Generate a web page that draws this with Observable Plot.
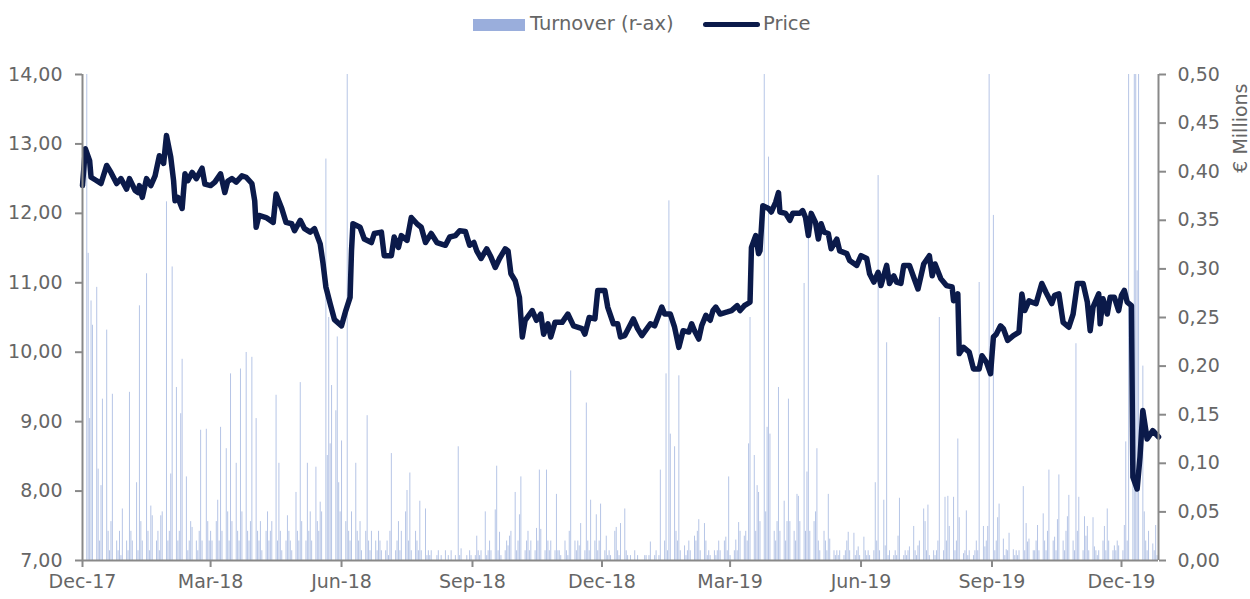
<!DOCTYPE html>
<html>
<head>
<meta charset="utf-8">
<script src="https://cdn.jsdelivr.net/npm/d3@7"></script>
<script src="https://cdn.jsdelivr.net/npm/@observablehq/plot@0.6"></script>
<style>
  body { margin: 0; background: #fff; font-family: "DejaVu Sans", sans-serif; }
  #legend { position: relative; width: 1250px; height: 46px; }
  #legend .sw { position: absolute; }
  #legend .lb { position: absolute; top: 14px; font-size: 19.5px; line-height: 20px; color: #666; white-space: nowrap; }
  svg { display: block; }
</style>
</head>
<body>
<div id="legend">
  <div class="sw" style="left:473px;top:19px;width:52px;height:12px;background:#9aaedc"></div>
  <span class="lb" style="left:530px">Turnover (r-ax)</span>
  <div class="sw" style="left:703px;top:21.5px;width:57px;height:5.5px;border-radius:3px;background:#0b1a4a"></div>
  <span class="lb" style="left:763px">Price</span>
</div>
<div id="chart"></div>
<script>
// ---------- Data ----------
const priceDates = [
"2017-12-01","2017-12-03","2017-12-06","2017-12-07","2017-12-11","2017-12-14","2017-12-18","2017-12-21","2017-12-25","2017-12-28",
"2018-01-01","2018-01-03","2018-01-07","2018-01-09","2018-01-10","2018-01-12","2018-01-15","2018-01-18","2018-01-21","2018-01-24",
"2018-01-27","2018-01-29","2018-02-01","2018-02-03","2018-02-04","2018-02-06","2018-02-09","2018-02-11","2018-02-13","2018-02-16",
"2018-02-19","2018-02-23","2018-02-25","2018-03-01","2018-03-04","2018-03-08","2018-03-11","2018-03-13","2018-03-16","2018-03-19",
"2018-03-23","2018-03-26","2018-03-30","2018-04-01","2018-04-02","2018-04-04","2018-04-09","2018-04-14","2018-04-16","2018-04-20",
"2018-04-23","2018-04-27","2018-04-29","2018-05-03","2018-05-06","2018-05-10","2018-05-13","2018-05-17","2018-05-19","2018-05-21",
"2018-05-24","2018-05-27","2018-06-01","2018-06-04","2018-06-07","2018-06-08","2018-06-09","2018-06-14","2018-06-17","2018-06-22",
"2018-06-24","2018-06-29","2018-07-01","2018-07-06","2018-07-08","2018-07-11","2018-07-13","2018-07-17","2018-07-20","2018-07-24",
"2018-07-27","2018-07-30","2018-08-03","2018-08-07","2018-08-13","2018-08-16","2018-08-20","2018-08-23","2018-08-27","2018-08-30",
"2018-09-02","2018-09-04","2018-09-07","2018-09-11","2018-09-14","2018-09-17","2018-09-20","2018-09-24","2018-09-26","2018-09-28",
"2018-10-01","2018-10-04","2018-10-06","2018-10-08","2018-10-13","2018-10-16","2018-10-19","2018-10-21","2018-10-24","2018-10-26",
"2018-10-29","2018-11-03","2018-11-07","2018-11-11","2018-11-17","2018-11-19","2018-11-22","2018-11-26","2018-11-28","2018-12-03",
"2018-12-05","2018-12-09","2018-12-12","2018-12-14","2018-12-17","2018-12-23","2018-12-26","2018-12-29","2019-01-04","2019-01-07",
"2019-01-12","2019-01-14","2019-01-18","2019-01-21","2019-01-24","2019-01-27","2019-01-31","2019-02-02","2019-02-04","2019-02-07",
"2019-02-09","2019-02-12","2019-02-15","2019-02-17","2019-02-19","2019-02-22","2019-02-27","2019-03-02","2019-03-06","2019-03-08",
"2019-03-11","2019-03-15","2019-03-16","2019-03-19","2019-03-21","2019-03-22","2019-03-24","2019-03-28","2019-03-30","2019-04-02",
"2019-04-04","2019-04-05","2019-04-09","2019-04-12","2019-04-14","2019-04-19","2019-04-21","2019-04-23","2019-04-25","2019-04-27",
"2019-04-30","2019-05-02","2019-05-04","2019-05-06","2019-05-09","2019-05-11","2019-05-13","2019-05-15","2019-05-17","2019-05-22",
"2019-05-24","2019-05-29","2019-06-01","2019-06-05","2019-06-07","2019-06-10","2019-06-13","2019-06-15","2019-06-19","2019-06-21",
"2019-06-24","2019-06-26","2019-06-29","2019-07-01","2019-07-05","2019-07-08","2019-07-11","2019-07-15","2019-07-19","2019-07-21",
"2019-07-23","2019-07-27","2019-07-31","2019-08-04","2019-08-05","2019-08-08","2019-08-09","2019-08-12","2019-08-16","2019-08-19",
"2019-08-23","2019-08-25","2019-08-28","2019-08-31","2019-09-02","2019-09-04","2019-09-07","2019-09-09","2019-09-12","2019-09-16",
"2019-09-20","2019-09-22","2019-09-24","2019-09-27","2019-09-29","2019-10-02","2019-10-06","2019-10-09","2019-10-13","2019-10-15",
"2019-10-18","2019-10-21","2019-10-25","2019-10-28","2019-10-31","2019-11-04","2019-11-07","2019-11-09","2019-11-11","2019-11-15",
"2019-11-16","2019-11-18","2019-11-21","2019-11-23","2019-11-26","2019-11-29","2019-12-01","2019-12-03","2019-12-05","2019-12-08",
"2019-12-09","2019-12-12","2019-12-14","2019-12-16","2019-12-19","2019-12-23","2019-12-27"
];
const priceValues = [
12.40,12.93,12.76,12.52,12.47,12.43,12.69,12.59,12.43,12.50,
12.35,12.50,12.33,12.30,12.40,12.23,12.50,12.40,12.54,12.83,
12.72,13.12,12.81,12.47,12.18,12.23,12.07,12.57,12.47,12.59,
12.50,12.65,12.42,12.40,12.45,12.57,12.30,12.46,12.50,12.45,
12.54,12.52,12.43,12.18,11.80,11.97,11.94,11.87,12.28,12.07,
11.87,11.85,11.75,11.90,11.78,11.73,11.78,11.56,11.28,10.94,
10.70,10.47,10.38,10.60,10.79,11.46,11.85,11.80,11.63,11.58,
11.71,11.73,11.39,11.39,11.66,11.51,11.68,11.61,11.94,11.85,
11.80,11.58,11.71,11.58,11.54,11.66,11.68,11.75,11.74,11.54,
11.58,11.46,11.35,11.49,11.37,11.22,11.35,11.49,11.46,11.13,
11.03,10.79,10.22,10.46,10.60,10.46,10.55,10.26,10.41,10.22,
10.43,10.43,10.55,10.38,10.34,10.26,10.50,10.48,10.89,10.89,
10.65,10.41,10.41,10.22,10.24,10.48,10.34,10.24,10.41,10.38,
10.65,10.55,10.55,10.36,10.07,10.31,10.29,10.41,10.31,10.19,
10.38,10.53,10.46,10.60,10.65,10.55,10.58,10.60,10.67,10.60,
10.67,10.72,11.51,11.68,11.42,11.46,12.11,12.07,12.02,12.16,
12.30,12.02,12.00,11.90,12.00,12.00,12.04,11.94,11.68,12.00,
11.87,11.63,11.85,11.73,11.71,11.49,11.56,11.63,11.46,11.42,
11.32,11.25,11.39,11.35,11.13,11.01,11.15,10.96,11.25,10.99,
11.10,11.01,10.99,11.25,11.25,11.08,10.91,11.27,11.39,11.10,
11.27,11.06,10.96,10.94,10.74,10.84,9.98,10.07,10.00,9.76,
9.76,9.95,9.86,9.69,10.22,10.26,10.38,10.34,10.17,10.24,
10.29,10.84,10.60,10.74,10.72,10.70,10.99,10.86,10.70,10.82,
10.84,10.43,10.36,10.55,10.99,10.99,10.72,10.31,10.65,10.84,
10.41,10.77,10.55,10.79,10.79,10.60,10.82,10.89,10.72,10.67,
8.20,8.03,8.49,9.16,8.75,8.87,8.78
];

// Daily turnover (€ millions), one value per trading day (Mon-Fri), 2017-12-01 .. 2019-12-27
const turnover = [
// Dec-17
0.52,0.50,0.316,0.146,0.267,0.242,0.281,0.094,0.02,0.077,0.166,0.237,0.03,0.01,0.04,0.171,0.02,0.01,0.03,0.005,0.053,
// Jan-18
0.02,0.01,0.173,0.03,0.02,0.08,0.01,0.262,0.04,0.02,0.295,0.03,0.01,0.056,0.046,0.02,0.03,0.01,0.046,0.05,0.369,0.02,0.03,
// Feb-18
0.089,0.302,0.178,0.02,0.03,0.151,0.207,0.086,0.01,0.02,0.04,0.034,0.02,0.01,0.03,0.134,0.02,0.135,0.04,0.02,
// Mar-18
0.03,0.02,0.04,0.062,0.02,0.137,0.03,0.115,0.05,0.02,0.192,0.04,0.10,0.03,0.02,0.197,0.05,0.214,0.03,0.02,0.04,0.209,
// Apr-18
0.146,0.03,0.02,0.04,0.01,0.03,0.05,0.02,0.03,0.04,0.17,0.02,0.10,0.03,0.01,0.02,0.046,0.03,0.02,0.01,0.07,
// May-18
0.03,0.02,0.183,0.04,0.02,0.10,0.03,0.05,0.02,0.096,0.04,0.03,0.06,0.05,0.413,0.108,0.25,0.12,0.18,0.154,0.23,0.08,0.05,
// Jun-18
0.123,0.04,0.55,0.03,0.02,0.05,0.10,0.03,0.02,0.04,0.01,0.03,0.149,0.02,0.01,0.03,0.02,0.01,0.03,0.02,0.01,
// Jul-18
0.01,0.02,0.005,0.03,0.11,0.01,0.02,0.04,0.01,0.03,0.05,0.072,0.02,0.09,0.01,0.03,0.02,0.01,0.061,0.01,0.053,0.005,
// Aug-18
0.01,0.005,0.01,0.0,0.005,0.01,0.0,0.005,0.01,0.0,0.005,0.0,0.01,0.005,0.0,0.117,0.005,0.012,0.0,0.005,0.0,0.01,0.005,
// Sep-18
0.005,0.025,0.01,0.005,0.01,0.05,0.005,0.01,0.02,0.01,0.052,0.097,0.01,0.029,0.005,0.01,0.02,0.015,0.025,0.03,
// Oct-18
0.07,0.01,0.02,0.047,0.086,0.01,0.02,0.03,0.01,0.02,0.01,0.033,0.02,0.093,0.032,0.01,0.093,0.02,0.01,0.02,0.01,0.068,0.01,
// Nov-18
0.01,0.005,0.02,0.01,0.005,0.03,0.195,0.02,0.01,0.02,0.015,0.038,0.01,0.162,0.02,0.01,0.062,0.02,0.047,0.01,0.02,0.058,
// Dec-18
0.01,0.025,0.005,0.01,0.005,0.03,0.034,0.01,0.005,0.038,0.053,0.01,0.005,0.0,0.005,0.01,0.0,0.005,0.0,0.0,0.005,
// Jan-19
0.005,0.0,0.005,0.019,0.005,0.01,0.0,0.005,0.093,0.02,0.192,0.01,0.37,0.13,0.117,0.03,0.02,0.19,0.01,0.015,0.005,0.01,0.02,
// Feb-19
0.01,0.025,0.02,0.03,0.042,0.01,0.038,0.02,0.005,0.01,0.005,0.01,0.005,0.01,0.02,0.01,0.02,0.024,0.01,0.086,
// Mar-19
0.005,0.01,0.021,0.01,0.039,0.03,0.025,0.03,0.02,0.12,0.25,0.108,0.03,0.077,0.07,0.04,0.55,0.05,0.137,0.415,0.13,
// Apr-19
0.03,0.02,0.04,0.178,0.03,0.061,0.02,0.04,0.166,0.04,0.03,0.02,0.068,0.066,0.04,0.285,0.03,0.091,0.336,0.03,0.04,0.05,
// May-19
0.115,0.02,0.01,0.03,0.02,0.01,0.068,0.022,0.01,0.005,0.01,0.005,0.01,0.005,0.01,0.02,0.029,0.01,0.028,0.005,0.01,0.014,0.005,
// Jun-19
0.024,0.01,0.005,0.01,0.005,0.01,0.08,0.02,0.396,0.01,0.062,0.015,0.224,0.005,0.01,0.005,0.01,0.005,0.025,0.064,
// Jul-19
0.005,0.01,0.005,0.01,0.014,0.035,0.01,0.005,0.015,0.02,0.053,0.04,0.01,0.057,0.005,0.01,0.005,0.01,0.02,0.25,0.01,0.065,0.02,
// Aug-19
0.066,0.035,0.065,0.01,0.02,0.125,0.044,0.007,0.01,0.051,0.005,0.01,0.005,0.01,0.02,0.01,0.286,0.035,0.014,0.02,0.035,0.55,
// Sep-19
0.355,0.01,0.02,0.044,0.058,0.022,0.005,0.011,0.01,0.028,0.011,0.005,0.01,0.005,0.01,0.076,0.01,0.038,0.019,0.022,0.01,
// Oct-19
0.01,0.02,0.036,0.01,0.048,0.02,0.01,0.03,0.093,0.02,0.024,0.01,0.042,0.088,0.02,0.01,0.03,0.045,0.067,0.02,0.01,0.223,0.03,
// Nov-19
0.065,0.01,0.045,0.025,0.035,0.01,0.044,0.014,0.01,0.005,0.01,0.02,0.035,0.01,0.053,0.02,0.01,0.015,0.01,0.02,0.015,
// Dec-19
0.01,0.036,0.122,0.02,0.55,0.12,0.55,0.55,0.298,0.55,0.2,0.05,0.02,0.01,0.03,0.017,0.01,0.036,0.005,0.014
];

const priceTicks = [7, 8, 9, 10, 11, 12, 13, 14];
const turnoverTicks = [0, 0.05, 0.10, 0.15, 0.20, 0.25, 0.30, 0.35, 0.40, 0.45, 0.50];
const xTickDates = ["2017-12-01","2018-03-01","2018-06-01","2018-09-01","2018-12-01","2019-03-01","2019-06-01","2019-09-01","2019-12-01"];
const startDate = "2017-12-01", endDate = "2019-12-27";

// ---------- Build ----------
const parse = d3.utcParse("%Y-%m-%d");
const start = parse(startDate), end = parse(endDate);
const tradingDays = d3.utcDays(start, d3.utcDay.offset(end, 1)).filter(d => d.getUTCDay() !== 0 && d.getUTCDay() !== 6);
const bars = tradingDays.map((d, i) => ({date: d, t: turnover[i] ?? 0}));
const priceData = priceDates.map((d, i) => ({date: parse(d), price: priceValues[i]}));

// right axis (turnover 0..0.50) mapped onto the price scale (7..14)
const tMax = 0.5, pMin = 7, pMax = 14;
const toPrice = t => pMin + t / tMax * (pMax - pMin);
const comma2 = v => v.toFixed(2).replace(".", ",");

const gray = "#898989";
const chart = Plot.plot({
  width: 1250,
  height: 553,
  marginTop: 28,
  marginBottom: 39,
  marginLeft: 82,
  marginRight: 92,
  style: {fontFamily: "DejaVu Sans, sans-serif", fontSize: "19px", color: "#666", background: "white", overflow: "visible"},
  x: {type: "utc", domain: [start, end]},
  y: {domain: [pMin, pMax]},
  marks: [
    Plot.ruleX(bars, {x: "date", y1: pMin, y2: d => toPrice(d.t), stroke: "#9db1de", strokeWidth: 1, strokeOpacity: 0.75, clip: true}),
    Plot.line(priceData, {x: "date", y: "price", stroke: "#0b1a4a", strokeWidth: 5.5, strokeLinejoin: "round", strokeLinecap: "round"}),
    Plot.ruleX([start], {stroke: gray, strokeWidth: 2}),
    Plot.ruleX([end], {stroke: gray, strokeWidth: 2}),
    Plot.ruleY([pMin], {stroke: gray, strokeWidth: 2}),
    Plot.axisX(xTickDates.map(parse), {tickFormat: d3.utcFormat("%b-%y"), tickSize: 7, tickPadding: 7, stroke: gray, strokeWidth: 2, label: null, fontSize: 19, fill: "#666"}),
    Plot.axisY(priceTicks, {anchor: "left", tickFormat: comma2, tickSize: 7, tickPadding: 13, stroke: gray, strokeWidth: 2, label: null, fontSize: 19, fill: "#666"}),
    Plot.axisY(turnoverTicks.map(toPrice), {anchor: "right", tickFormat: v => comma2((v - pMin) / (pMax - pMin) * tMax), tickSize: 7, tickPadding: 12, stroke: gray, strokeWidth: 2, label: null, fontSize: 19, fill: "#666"}),
    Plot.text(["€ Millions"], {frameAnchor: "top-right", rotate: -90, textAnchor: "end", dx: 75, dy: 9, fontSize: 19, fill: "#666"})
  ]
});
document.getElementById("chart").appendChild(chart);
</script>
</body>
</html>
